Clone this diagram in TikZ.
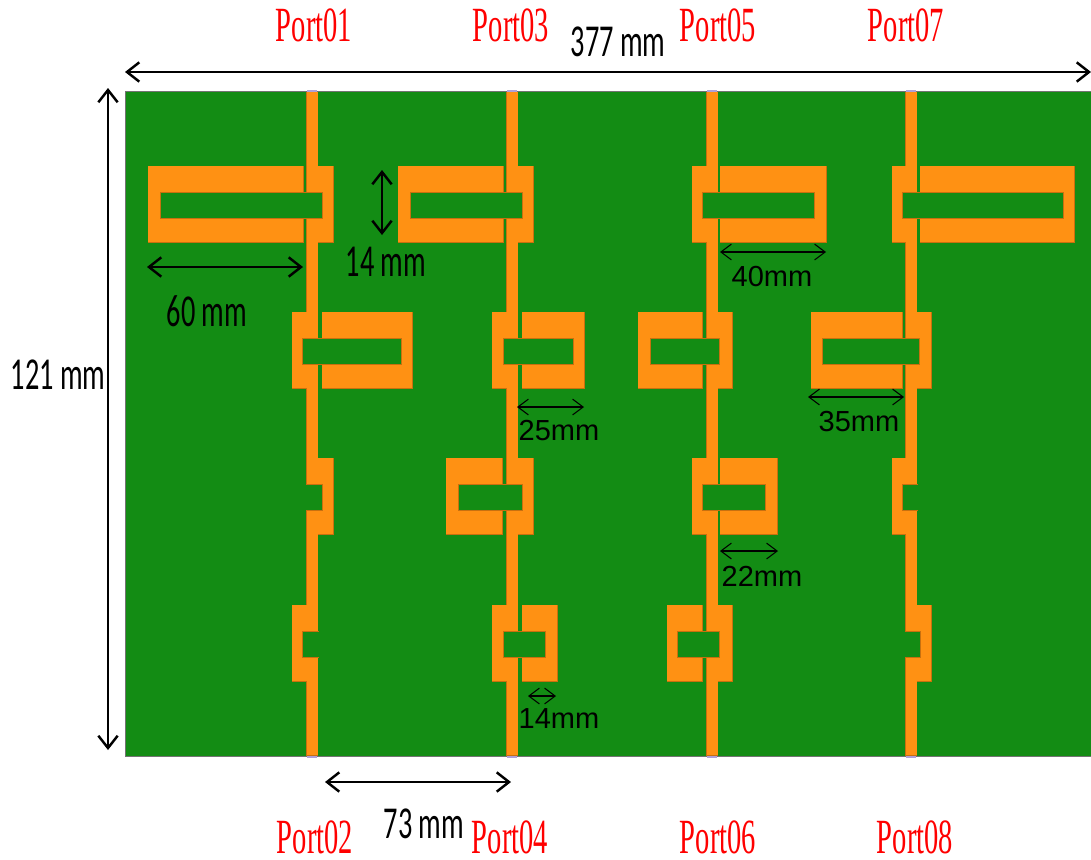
\documentclass[tikz,border=0pt]{standalone}
\usepackage{fontspec}
\usetikzlibrary{arrows.meta}
\setmainfont{Liberation Sans}
\newfontfamily\portfont[FakeStretch=0.58]{Liberation Serif}
\newfontfamily\dimfont[FakeStretch=0.62]{Carlito}
\definecolor{boardgreen}{HTML}{138C14}
\definecolor{metalorange}{HTML}{FF9113}
\definecolor{metaledge}{HTML}{C8700F}
\definecolor{portlilac}{HTML}{B0A0D8}
\tikzset{
    edgepass/.style={fill=metaledge,draw=metaledge,line width=0.5pt},
    fillpass/.style={fill=metalorange},
    slotcut/.style={fill=boardgreen,draw=metaledge,line width=0.35pt},
    portlabel/.style={text=red,font=\portfont\fontsize{28}{30}\selectfont,inner sep=0pt},
    dimlabel/.style={font=\dimfont\fontsize{26}{28}\selectfont,inner sep=0pt},
    smalllabel/.style={font=\fontsize{16.5}{18}\selectfont,inner sep=0pt},
    bigdim/.style={<->,>={Straight Barb[length=7pt,width=11pt]},line width=1.4pt},
    thindim/.style={<->,>={Straight Barb[length=6pt,width=9pt]},line width=0.6pt}
}
% line centre / outer side of block / top of row
\def\blocklist{312/333/166,312/292/312,312/333/458,312/292/605,
    512/533/166,512/492/312,512/533/458,512/492/605,
    712/692/166,712/732/312,712/692/458,712/732/605,
    911/892/166,911/931/312,911/892/458,911/931/605}
% patch left / patch right / top of row / slot left / slot right
\def\patchlist{148/303/166/160/322,322/412/312/302/401,
    398/503/166/410/522,522/584/312/503/573,446/502/458/458/522,522/557/605/503/545,
    720/826/166/702/814,638/702/312/650/719,720/777/458/702/765,667/702/605/677/719,
    920/1074/166/902/1063,811/902/312/822/919}
\begin{document}
\begin{tikzpicture}[x=0.02cm,y=-0.02cm]
    \useasboundingbox (0,0) rectangle (1091,859);
    \fill[white] (0,0) rectangle (1091,859);
    \path[fill=boardgreen,draw=black!55,line width=0.5pt] (125,91) rectangle (1095,756);

    \foreach \pass in {edgepass,fillpass}
        {
            \foreach \x in {312,512,712,911}
                {
                    \path[\pass] (\x-5.5,92) rectangle (\x+5.5,755);
                }
            \foreach \l/\b/\y in \blocklist
                {
                    \path[\pass] (\l,\y) rectangle (\b,\y+76);
                }
            \foreach \pa/\pb/\y/\sa/\sb in \patchlist
                {
                    \path[\pass] (\pa,\y) rectangle (\pb,\y+76);
                }
        }

    \foreach \pa/\pb/\y/\sa/\sb in \patchlist
        {
            \path[slotcut] (\sa,\y+26) rectangle (\sb,\y+52);
        }
    % slots open on one side
    \foreach \sa/\sb/\y in {322/306/458,302/318.5/605,902/917.5/458,920/904.5/605}
        {
            \path[slotcut] (\sb,\y+26) -- (\sa,\y+26) -- (\sa,\y+52) -- (\sb,\y+52);
        }

    \foreach \x in {312,512,712,911}
        {
            \fill[portlilac] (\x-5,89.5) rectangle (\x+5,92);
            \fill[portlilac] (\x-5,755.5) rectangle (\x+5,758);
        }

    \node[portlabel] (port01) at (314,25){Port01};
    \node[portlabel] (port03) at (511,25){Port03};
    \node[portlabel] (port05) at (718,25){Port05};
    \node[portlabel] (port07) at (906,25){Port07};
    \node[portlabel] (port02) at (315,837){Port02};
    \node[portlabel] (port04) at (510,837){Port04};
    \node[portlabel] (port06) at (718,837){Port06};
    \node[portlabel] (port08) at (915,837){Port08};

    \node[dimlabel] (total) at (618,42){377 mm};
    \node[dimlabel] (height) at (58,375){121 mm};
    \node[dimlabel] (long) at (207,311){60 mm};
    \node[dimlabel] (gap) at (386,262){14 mm};
    \node[dimlabel] (pitch) at (424,824){73 mm};
    \node[smalllabel] (l40) at (772,277){40mm};
    \node[smalllabel] (l25) at (559,431){25mm};
    \node[smalllabel] (l35) at (859,422){35mm};
    \node[smalllabel] (l22) at (762,576){22mm};
    \node[smalllabel] (l14) at (559,719){14mm};

    \coordinate (totala) at (125,72);
    \coordinate (totalb) at (1091,72);
    \coordinate (heighta) at (108,88);
    \coordinate (heightb) at (108,750);
    \coordinate (longa) at (147,267);
    \coordinate (longb) at (303,267);
    \coordinate (gapa) at (382,170);
    \coordinate (gapb) at (382,235);
    \coordinate (pitcha) at (325,782);
    \coordinate (pitchb) at (511,782);
    \coordinate (w40a) at (720,252);
    \coordinate (w40b) at (826,252);
    \coordinate (w25a) at (517,407);
    \coordinate (w25b) at (584,407);
    \coordinate (w35a) at (808,397);
    \coordinate (w35b) at (904,397);
    \coordinate (w22a) at (720,551);
    \coordinate (w22b) at (778,551);
    \coordinate (w14a) at (528,696);
    \coordinate (w14b) at (556,696);

    \draw[bigdim] (totala) -- (totalb);
    \draw[bigdim] (heighta) -- (heightb);
    \draw[bigdim] (longa) -- (longb);
    \draw[bigdim] (gapa) -- (gapb);
    \draw[bigdim] (pitcha) -- (pitchb);
    \draw[thindim] (w40a) -- (w40b);
    \draw[thindim] (w25a) -- (w25b);
    \draw[thindim] (w35a) -- (w35b);
    \draw[thindim] (w22a) -- (w22b);
    \draw[thindim] (w14a) -- (w14b);
\end{tikzpicture}
\end{document}
